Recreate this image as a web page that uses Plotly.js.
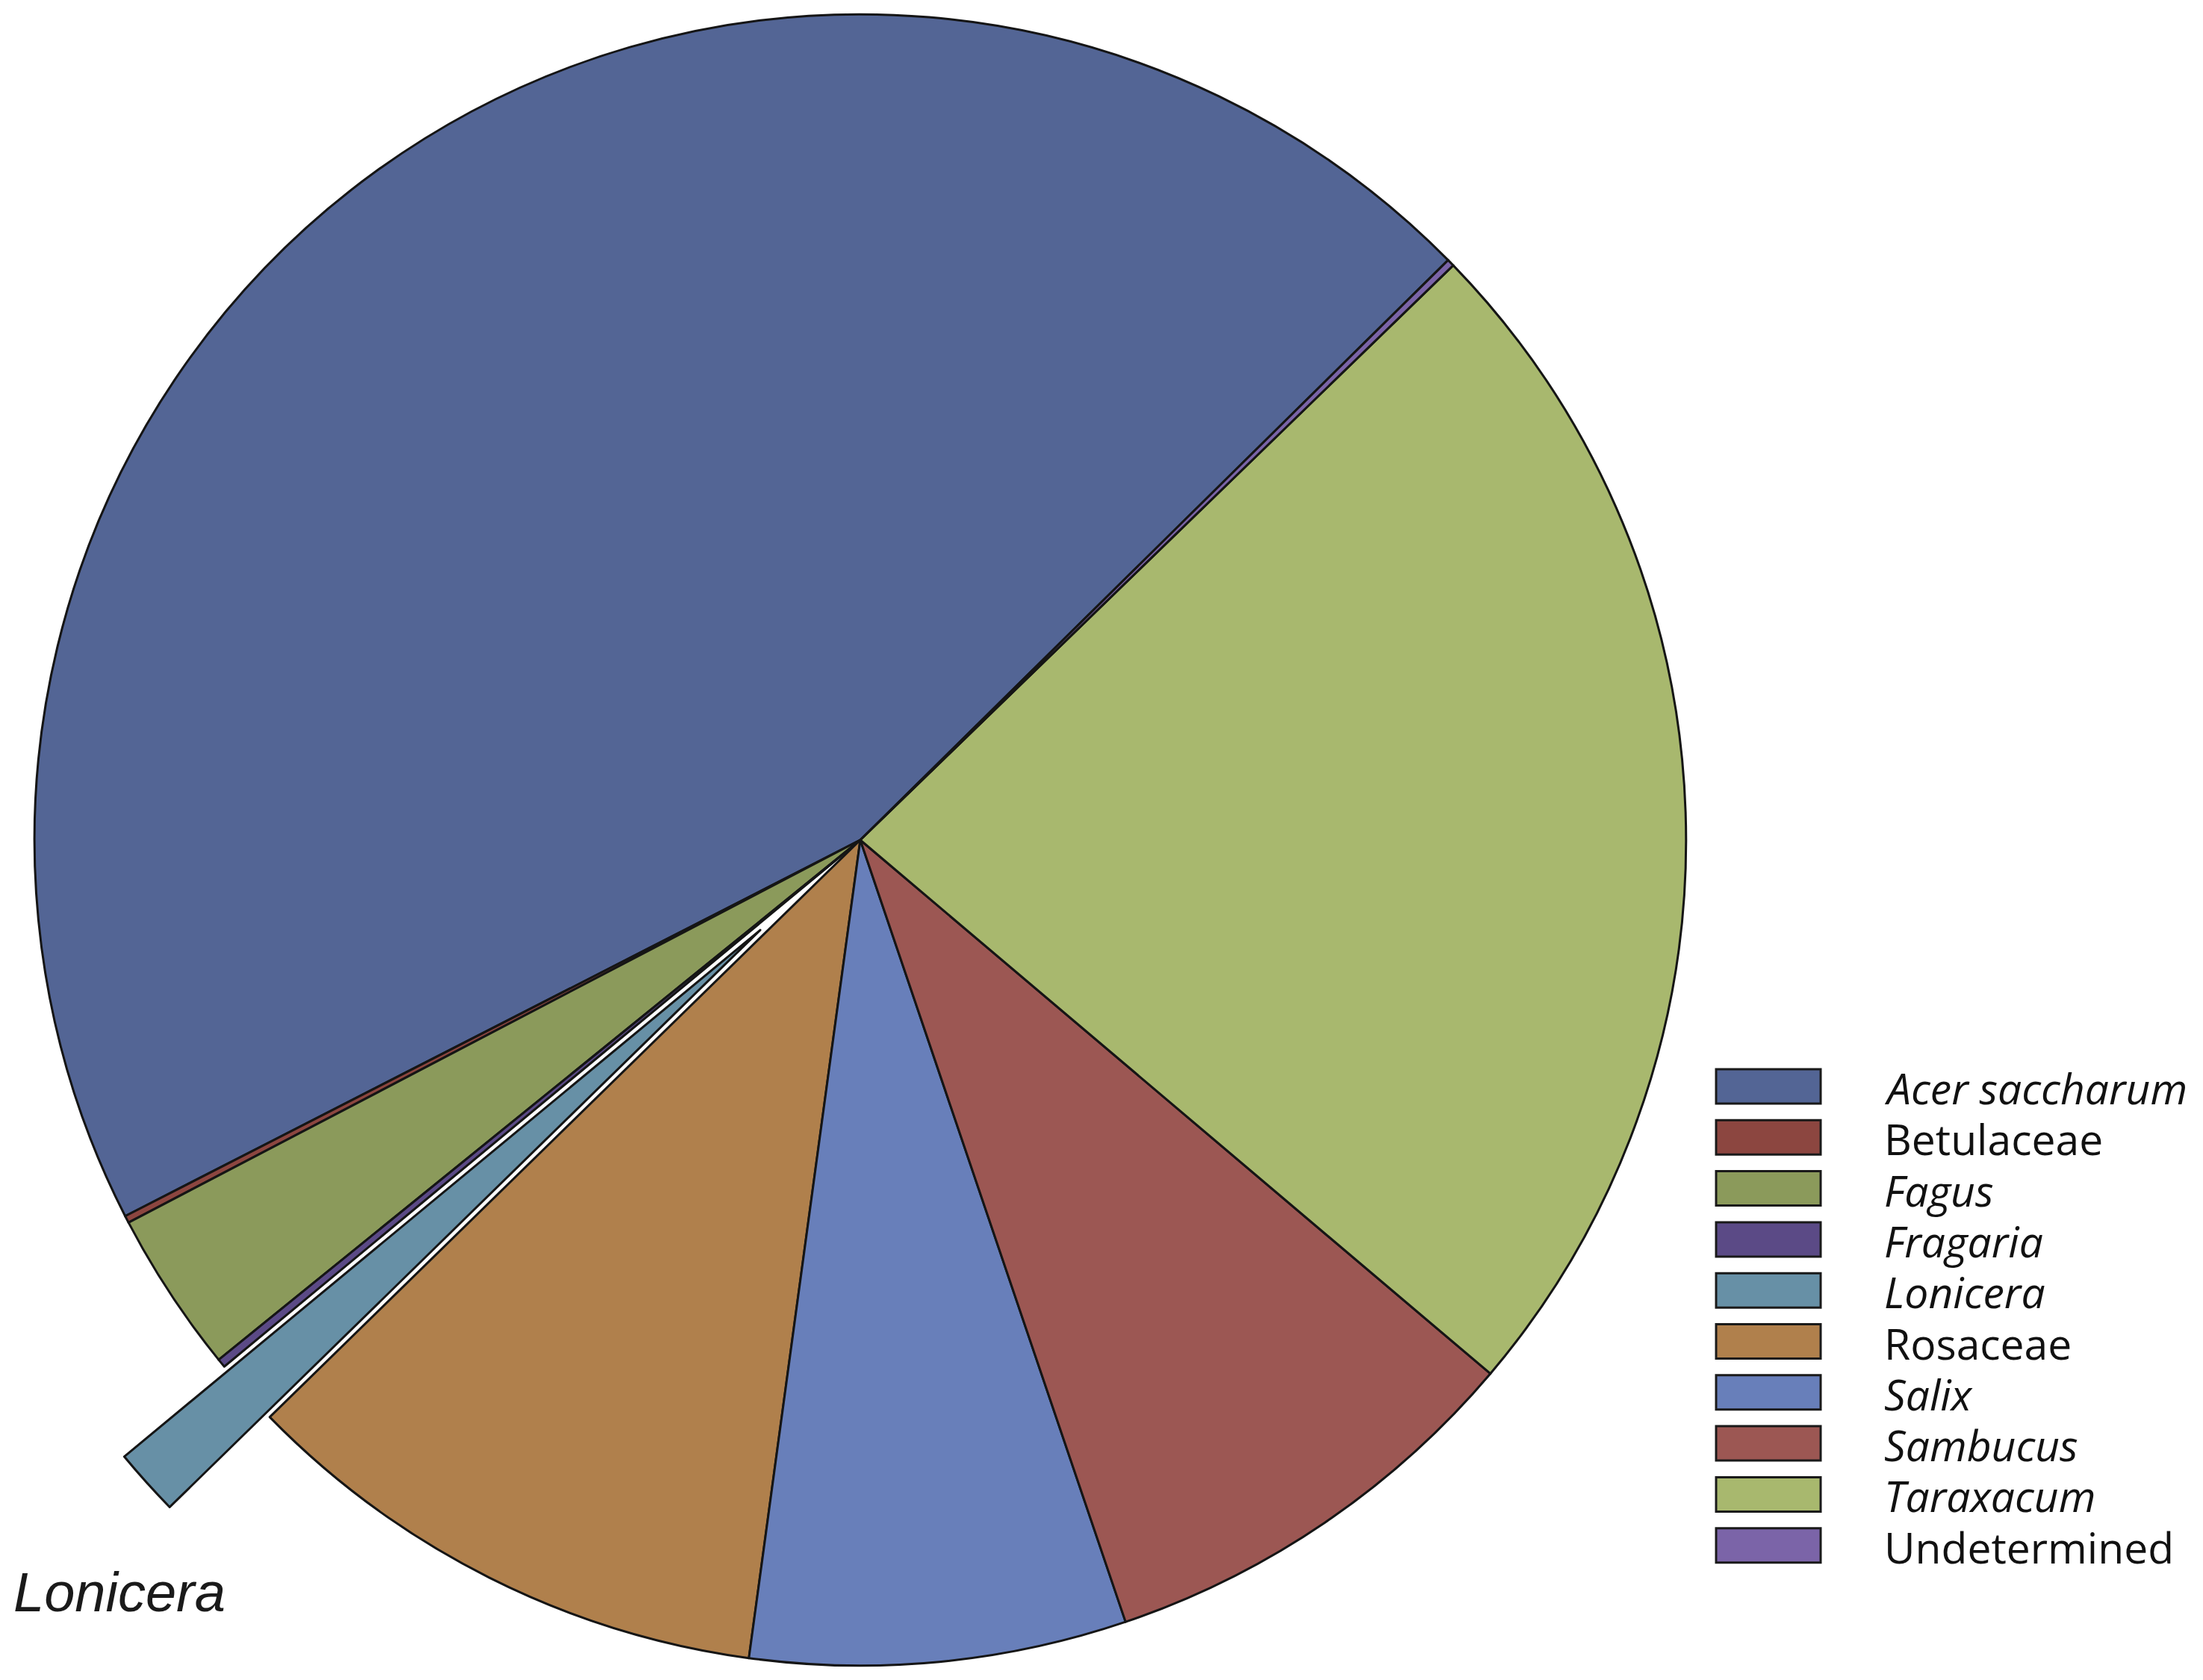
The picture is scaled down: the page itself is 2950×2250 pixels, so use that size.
<!DOCTYPE html>
<html>
<head>
<meta charset="utf-8">
<script src="https://cdn.plot.ly/plotly-3.0.1.min.js"></script>
<style>
html,body{margin:0;padding:0;overflow:hidden;background:#ffffff;width:2950px;height:2250px;}
#chart{position:absolute;left:-350px;top:-161px;}
</style>
</head>
<body>
<div id="chart"></div>
<script>
// ---- data ----
const categories = ['Acer saccharum','Betulaceae','Fagus','Fragaria','Lonicera','Rosaceae','Salix','Sambucus','Taraxacum','Undetermined'];
const sharePercent = [45.14, 0.14, 3.17, 0.17, 1.31, 10.53, 7.36, 8.61, 23.44, 0.14];
const isGenusName = [true, false, true, true, true, false, true, true, true, false];
const pulledCategory = 'Lonicera';
const sliceColors = ['#536595','#8c4640','#8b9a5b','#5b4a86','#6790a6','#b0804c','#687fba','#9c5753','#a8b86e','#7b64a8'];

// ---- page geometry (div is larger than the page so the pulled pie keeps its full size) ----
const DIV_W = 3300, DIV_H = 2572, OFF_L = 350, OFF_T = 161;
const px2x = x => (x + OFF_L) / DIV_W;
const px2y = y => 1 - (y + OFF_T) / DIV_H;
const pieCx = 1152 + OFF_L;
const half = DIV_H / 2;

const fmt = (s, it) => it ? '<i>' + s + '</i>' : s;

const trace = {
  type: 'pie',
  labels: categories,
  values: sharePercent,
  sort: false,
  direction: 'counterclockwise',
  rotation: -117.1,
  pull: categories.map(c => c === pulledCategory ? 0.163 : 0),
  marker: {colors: sliceColors, line: {color: '#151515', width: 3}},
  textinfo: 'none',
  hoverinfo: 'label+percent',
  showlegend: false,
  domain: {x: [(pieCx - half) / DIV_W, (pieCx + half) / DIV_W], y: [0, 1]}
};

const shapes = [];
const annotations = [];
const legTop = 1432, legStep = 68.3, legH = 46;
categories.forEach((c, i) => {
  const y0 = legTop + i * legStep;
  shapes.push({
    type: 'rect', xref: 'paper', yref: 'paper',
    x0: px2x(2298), x1: px2x(2438), y0: px2y(y0), y1: px2y(y0 + legH),
    fillcolor: sliceColors[i], line: {color: '#1a1a1a', width: 3}
  });
  annotations.push({
    xref: 'paper', yref: 'paper', x: px2x(2521), y: px2y(y0 + legH / 2 + 2),
    xanchor: 'left', yanchor: 'middle', showarrow: false,
    text: fmt(c, isGenusName[i]),
    font: {family: 'Open Sans, sans-serif', size: 57, color: '#111111'}
  });
});
const pulledIdx = categories.indexOf(pulledCategory);
annotations.push({
  xref: 'paper', yref: 'paper', x: px2x(16), y: px2y(2132),
  xanchor: 'left', yanchor: 'middle', showarrow: false,
  text: fmt(categories[pulledIdx], true),
  font: {family: 'Liberation Sans, Arial, sans-serif', size: 74, color: '#1a1a1a'}
});

const layout = {
  width: DIV_W, height: DIV_H,
  margin: {l: 0, r: 0, t: 0, b: 0, pad: 0},
  paper_bgcolor: '#ffffff',
  showlegend: false,
  shapes: shapes,
  annotations: annotations
};

Plotly.newPlot('chart', [trace], layout, {staticPlot: true, displayModeBar: false});
</script>
</body>
</html>
